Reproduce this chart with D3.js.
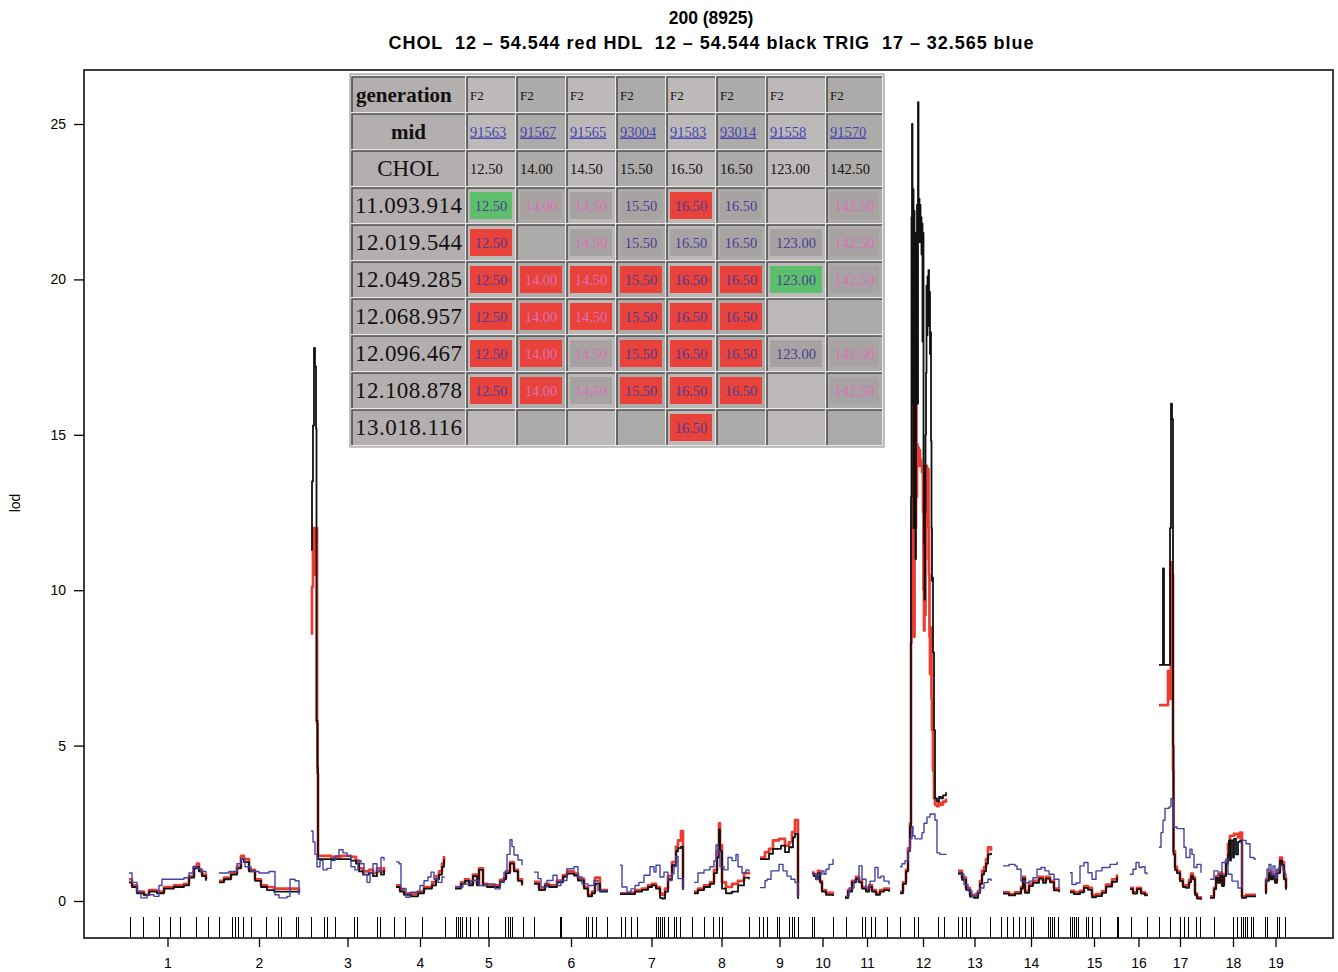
<!DOCTYPE html>
<html>
<head>
<meta charset="utf-8">
<script src="https://cdn.jsdelivr.net/npm/d3@7"></script>
<style>
body { margin: 0; background: #fff; }
svg { display: block; }
</style>
</head>
<body>
<svg id="chart"></svg>
<script>
// chromosome spans on the cumulative map (same units as markers)
var chromNames = ["1","2","3","4","5","6","7","8","9","10","11","12","13","14","15","16","17","18","19"];
var chromStart = [45,135,227,312,371,450,536,610,676,728,761,816,874,919,986,1046,1075,1126,1181];
var chromEnd   = [122,215,300,360,438,524,599,665,715,749,805,862,907,975,1034,1063,1117,1172,1202];

// marker positions (rug)
var markers = [46,59,75,86,96,112,124,135,148,151,154,159,167,182,194,197,212,214,227,240,243,251,270,273,293,296,310,321,338,361,
  372,374,376,378,382,386,394,404,421,424,426,428,439,450,476,477,502,504,508,512,523,537,541,547,553,572,574,576,578,580,584,590,592,596,
  608,620,629,635,638,665,675,679,683,693,695,705,708,710,714,728,730,749,762,778,781,787,791,803,816,830,834,854,860,874,878,882,886,
  906,917,923,929,935,941,947,949,964,966,968,970,974,986,988,990,992,994,1002,1004,1008,1016,1033,1034,1047,1063,1075,1086,1096,1100,
  1104,1112,1116,1130,1149,1153,1157,1159,1161,1163,1167,1169,1181,1183,1193,1195,1201];

// lod per chromosome: [position from chromosome start, lod]
var cholLod = [
  [[0,0.7],[3,0.5],[8,0.3],[15,0.2],[20,0.35],[28,0.3],[35,0.45],[45,0.5],[55,0.55],[60,0.8],[65,1.1],[68,1.2],[70,1.0],[73,0.85],[77,0.7]],
  [[0,0.65],[5,0.75],[12,0.9],[18,1.1],[22,1.45],[25,1.35],[30,1.0],[36,0.7],[42,0.5],[48,0.45],[55,0.4],[65,0.4],[75,0.4],[80,0.3]],
  [[0,8.6],[1,10.1],[2,12.0],[3,11.8],[4,10.5],[5,12.0],[6,5.7],[6.5,4.1],[7,1.45],[20,1.42],[30,1.45],[40,1.42],[45,1.3],[48,1.05],[52,0.95],[58,1.0],[62,0.9],[66,1.05],[70,0.95],[73,1.1]],
  [[0,0.5],[4,0.35],[8,0.25],[15,0.22],[22,0.3],[28,0.45],[36,0.6],[40,0.8],[43,0.95],[46,1.2],[48,1.45]],
  [[0,0.45],[6,0.6],[10,0.7],[14,0.55],[18,0.85],[22,0.55],[24,1.05],[28,0.55],[32,0.5],[40,0.5],[45,0.68],[49,0.75],[51,0.95],[55,1.25],[59,1.0],[63,0.7],[67,0.55]],
  [[0,0.62],[5,0.4],[11,0.55],[15,0.5],[23,0.66],[29,0.83],[33,0.95],[40,0.88],[44,0.72],[50,0.45],[54,0.2],[58,0.3],[61,0.75],[66,0.35],[74,0.35]],
  [[0,0.25],[8,0.26],[15,0.35],[22,0.4],[28,0.5],[32,0.55],[36,0.45],[40,0.25],[42,0.2],[45,0.4],[48,0.8],[52,1.25],[56,1.75],[58,1.95],[61,2.25],[63,0.4]],
  [[0,0.3],[4,0.4],[10,0.5],[16,0.6],[20,1.0],[23,1.6],[25,2.5],[26,1.8],[28,0.6],[32,0.45],[38,0.55],[44,0.65],[50,0.9],[55,0.85]],
  [[0,1.4],[5,1.57],[9,1.68],[13,1.95],[19,2.0],[25,1.78],[29,1.89],[32,2.22],[35,2.6],[38,0.15],[39,0.15]],
  [[0,0.91],[2,0.86],[4,0.75],[6,0.97],[8,0.64],[10,0.35],[14,0.26],[18,0.26],[21,0.21]],
  [[0,0.12],[3,0.35],[7,0.65],[11,0.78],[14,0.65],[17,0.45],[21,0.35],[24,0.5],[27,0.35],[31,0.25],[35,0.35],[39,0.4],[44,0.35]],
  [[0,0.3],[3,0.6],[6,1.0],[8,1.7],[10,2.5],[11,8.3],[11.5,12],[12,9.5],[12.5,14.5],[13,11],[13.5,16.5],[14,8.5],[14.5,15],[15,12],[16,16.7],[16.5,13],[17,14.7],[17.5,14.1],[18,14.6],[18.5,14.0],[19,14.5],[20,14.2],[21,14.0],[22,13.8],[23,12.5],[23.5,10],[24,8.7],[24.5,11.5],[25,9.2],[25.5,11],[26,13.0],[26.5,14.0],[27,13.6],[28,13.9],[28.5,12],[29,10.5],[29.5,8.5],[30,7.3],[31,8.8],[31.5,6.5],[32,5.5],[33,4.2],[34,3.3],[35,3.1],[37,3.05],[39,3.15],[41,3.1],[43,3.2],[46,3.3]],
  [[0,0.97],[4,0.75],[8,0.42],[12,0.2],[16,0.15],[20,0.32],[22,0.64],[24,0.97],[26,1.08],[28,1.35],[30,1.73],[33,1.62]],
  [[0,0.28],[6,0.22],[12,0.28],[18,0.45],[20,0.78],[22,0.32],[26,0.55],[30,0.65],[36,0.78],[40,0.65],[43,0.78],[47,0.65],[51,0.4],[56,0.33]],
  [[0,0.33],[4,0.28],[10,0.33],[14,0.48],[18,0.42],[22,0.18],[26,0.22],[32,0.32],[36,0.53],[42,0.7],[47,0.82],[48,0.82]],
  [[0,0.42],[3,0.28],[7,0.42],[11,0.28],[15,0.22],[17,0.2]],
  [[0,6.3],[9,7.4],[10,6.5],[12,10.9],[13,10.5],[14,4.2],[14.5,1.6],[16,1.1],[18,0.95],[21,0.7],[24,0.5],[27,0.5],[30,0.68],[32,0.88],[34,0.75],[36,0.25],[38,0.12],[42,0.08]],
  [[0,0.15],[4,0.42],[6,0.8],[8,0.64],[10,0.91],[12,0.53],[14,0.86],[16,1.3],[18,1.84],[20,2.1],[24,2.16],[28,2.05],[30,2.2],[32,0.15],[36,0.2],[46,0.2]],
  [[0,0.3],[1,0.7],[4,0.97],[6,0.75],[8,0.86],[10,0.64],[12,0.97],[15,1.4],[17,1.25],[19,0.75],[21,0.42]]
];

var hdlLod = [
  [[0,0.6],[3,0.45],[8,0.25],[15,0.2],[20,0.3],[28,0.25],[35,0.4],[45,0.45],[55,0.5],[60,0.75],[65,1.05],[68,1.1],[70,0.95],[73,0.8],[77,0.65]],
  [[0,0.6],[5,0.7],[12,0.85],[18,1.05],[22,1.35],[25,1.25],[30,0.95],[36,0.65],[42,0.45],[48,0.35],[55,0.3],[65,0.3],[75,0.3],[80,0.25]],
  [[0,11.3],[1,13.5],[2,15.3],[3,17.8],[4,17.2],[5,15.2],[5.5,5.8],[6.5,4.3],[7,1.35],[20,1.35],[30,1.35],[40,1.3],[45,1.2],[48,0.95],[52,0.85],[58,0.9],[62,0.8],[66,0.95],[70,0.85],[73,1.0]],
  [[0,0.45],[4,0.3],[8,0.2],[15,0.15],[22,0.25],[28,0.4],[36,0.5],[40,0.7],[43,0.85],[46,1.1],[48,1.35]],
  [[0,0.4],[6,0.55],[10,0.65],[14,0.5],[18,0.8],[22,0.5],[24,1.0],[28,0.5],[32,0.45],[40,0.45],[45,0.62],[49,0.7],[51,0.9],[55,1.2],[59,0.95],[63,0.65],[67,0.5]],
  [[0,0.55],[5,0.35],[11,0.5],[15,0.45],[23,0.6],[29,0.78],[33,0.88],[40,0.82],[44,0.66],[50,0.4],[54,0.15],[58,0.25],[61,0.55],[66,0.3],[74,0.3]],
  [[0,0.22],[8,0.22],[15,0.3],[22,0.36],[28,0.45],[32,0.5],[36,0.4],[40,0.1],[42,0.08],[45,0.3],[48,0.7],[52,1.15],[56,1.6],[58,1.7],[61,1.75],[63,0.35]],
  [[0,0.25],[4,0.35],[10,0.45],[16,0.55],[20,0.9],[23,1.4],[25,2.3],[26,1.6],[28,0.4],[32,0.25],[38,0.3],[44,0.5],[50,0.75],[55,0.7]],
  [[0,1.35],[5,1.35],[9,1.52],[13,1.68],[21,1.78],[25,1.57],[29,1.73],[33,2.05],[35,2.16],[38,0.1],[39,0.1]],
  [[0,0.86],[2,0.8],[4,0.7],[6,0.9],[8,0.6],[10,0.3],[14,0.2],[18,0.2],[21,0.16]],
  [[0,0.1],[3,0.3],[7,0.6],[11,0.72],[14,0.6],[17,0.4],[21,0.3],[24,0.45],[27,0.3],[31,0.2],[35,0.3],[39,0.35],[44,0.3]],
  [[0,0.25],[3,0.55],[6,0.95],[8,1.6],[10,2.4],[11,13.0],[11.5,22.0],[12,25.0],[12.5,16],[13,22.9],[13.5,12],[14,22.2],[14.5,15],[15,21.5],[15.5,11],[16,20.8],[16.5,17],[17,22.4],[17.5,16],[18,25.7],[18.5,22.0],[19,22.6],[19.5,21.2],[20,22.4],[20.5,21.4],[21,22.0],[21.5,20.8],[22,21.8],[22.5,18],[23,21.5],[23.5,14],[24,11.5],[24.5,9.7],[25,12.5],[25.5,15],[26,17],[26.5,19.8],[27,18.2],[27.5,20.1],[28,18.8],[28.5,20.3],[29,18.5],[29.5,19.6],[30,17.6],[30.5,18.3],[31,14.8],[31.5,12],[32,10.3],[32.5,10.4],[33,8],[34,5.5],[35,3.3],[37,3.2],[39,3.35],[41,3.3],[43,3.4],[46,3.5]],
  [[0,0.9],[4,0.68],[8,0.36],[12,0.14],[16,0.1],[20,0.26],[22,0.55],[24,0.85],[26,0.95],[28,1.2],[30,1.5],[33,1.55]],
  [[0,0.24],[6,0.18],[12,0.24],[18,0.4],[20,0.72],[22,0.26],[26,0.48],[30,0.58],[36,0.72],[40,0.58],[43,0.72],[47,0.6],[51,0.34],[56,0.28]],
  [[0,0.28],[4,0.22],[10,0.28],[14,0.42],[18,0.36],[22,0.12],[26,0.16],[32,0.26],[36,0.46],[42,0.62],[47,0.75],[48,0.75]],
  [[0,0.38],[3,0.24],[7,0.38],[11,0.24],[15,0.18],[17,0.16]],
  [[0,7.6],[3,7.6],[4,10.7],[5,7.6],[9,7.6],[11,12],[12,16.0],[13,15.5],[14,5],[14.5,1.5],[16,1.0],[18,0.9],[21,0.64],[24,0.45],[27,0.42],[30,0.6],[32,0.8],[34,0.7],[36,0.2],[38,0.08],[42,0.04]],
  [[0,0.1],[4,0.38],[6,0.74],[8,0.58],[10,0.85],[12,0.48],[14,0.8],[16,1.2],[18,1.5],[19,1.95],[20,1.3],[21,1.95],[23,1.4],[24,2.0],[26,1.5],[28,1.9],[30,1.95],[32,0.1],[36,0.15],[46,0.15]],
  [[0,0.25],[1,0.65],[4,0.9],[6,0.7],[8,0.8],[10,0.58],[12,0.9],[15,1.3],[17,1.15],[19,0.7],[21,0.36]]
];

var trigLod = [
  [[0,0.9],[3,0.6],[8,0.3],[12,0.1],[18,0.2],[25,0.15],[30,0.5],[33,0.7],[45,0.7],[55,0.75],[60,0.9],[64,1.1],[68,1.05],[72,0.95],[77,0.9]],
  [[0,0.9],[10,0.95],[18,1.2],[22,1.35],[26,1.1],[32,0.95],[40,0.9],[50,0.95],[56,0.2],[60,0.1],[68,0.15],[71,0.7],[76,0.65],[80,0.2]],
  [[0,2.25],[2,1.9],[4,1.5],[6,1.1],[9,1.3],[12,1.0],[16,1.05],[20,1.3],[24,1.45],[28,1.65],[32,1.55],[36,1.45],[40,1.1],[44,1.0],[47,1.3],[50,1.2],[53,0.85],[56,0.6],[59,0.9],[62,1.2],[66,0.95],[70,1.4],[73,1.3]],
  [[0,1.26],[3,1.2],[5,0.4],[10,0.12],[14,0.28],[20,0.3],[24,0.5],[28,0.65],[32,0.77],[35,0.93],[38,0.7],[42,0.6],[46,0.77],[48,0.75]],
  [[0,0.45],[8,0.55],[16,0.66],[24,0.5],[32,0.55],[40,0.39],[45,0.6],[49,0.93],[52,1.5],[55,1.97],[57,1.75],[59,1.48],[63,1.32],[67,1.15]],
  [[0,0.93],[4,0.72],[7,0.45],[13,0.66],[19,0.83],[23,0.5],[27,0.66],[33,1.04],[40,1.1],[44,0.77],[48,0.55],[54,0.5],[60,0.66],[64,0.34],[74,0.34]],
  [[0,1.15],[2,0.45],[7,0.28],[11,0.39],[15,0.5],[19,0.6],[24,0.83],[30,1.1],[34,0.93],[36,1.15],[40,0.77],[44,0.93],[48,0.66],[52,0.88],[54,1.1],[56,1.43],[58,0.72],[63,0.35]],
  [[0,0.6],[4,0.9],[10,1.0],[16,1.1],[20,1.3],[22,1.8],[24,1.6],[26,1.1],[30,1.0],[34,1.4],[38,1.3],[42,1.5],[44,1.1],[48,0.9],[52,1.0],[55,0.95]],
  [[0,0.43],[5,0.65],[7,0.7],[11,0.97],[19,1.18],[23,0.97],[27,0.8],[31,0.7],[35,0.59],[38,0.15],[39,0.15]],
  [[0,0.86],[4,0.7],[6,0.86],[10,0.97],[12,0.86],[14,1.02],[17,1.18],[21,1.35]],
  [[0,0.15],[4,0.42],[9,0.64],[14,1.13],[17,0.7],[21,0.42],[25,0.64],[30,1.08],[33,0.75],[36,0.8],[39,0.64],[44,0.53]],
  [[0,1.1],[2,1.2],[5,1.3],[8,1.6],[10,2.0],[12,2.4],[13,2.1],[15,2.0],[18,2.0],[20,2.0],[22,2.2],[24,2.5],[27,2.7],[30,2.8],[33,2.8],[35,2.6],[37,1.55],[40,1.5],[43,1.5],[46,1.48]],
  [[0,0.86],[6,0.53],[10,0.32],[14,0.15],[18,0.26],[22,0.42],[26,0.59],[30,0.7],[33,0.64]],
  [[0,1.13],[6,1.18],[12,1.13],[14,1.02],[18,0.64],[22,0.59],[26,0.64],[30,0.75],[34,1.02],[38,1.08],[42,0.97],[46,0.86],[51,0.7],[56,0.42]],
  [[0,0.91],[2,0.53],[6,0.58],[10,1.13],[14,1.24],[18,0.91],[22,0.7],[26,0.97],[32,1.08],[40,1.18],[47,1.24],[48,1.24]],
  [[0,0.86],[3,1.02],[6,1.24],[9,1.08],[12,1.1],[15,0.9],[17,0.85]],
  [[0,1.73],[2,2.2],[4,2.6],[6,2.98],[10,3.03],[12,3.3],[14,2.38],[18,2.33],[23,2.33],[25,1.73],[27,1.4],[31,1.67],[33,1.5],[35,1.08],[38,1.18],[42,0.91]],
  [[0,0.7],[4,0.97],[8,0.86],[12,1.24],[16,1.35],[18,0.86],[22,0.64],[28,0.42],[32,1.95],[36,1.84],[40,1.4],[44,1.35],[46,1.35]],
  [[0,0.59],[2,1.02],[4,1.18],[6,0.86],[8,1.13],[10,0.75],[12,1.02],[14,1.13],[18,0.97],[20,0.86],[21,0.8]]
];

var yTicks = [0, 5, 10, 15, 20, 25];

// inset table
var tableMid = ["91563","91567","91565","93004","91583","93014","91558","91570"];
var tableGen = ["F2","F2","F2","F2","F2","F2","F2","F2"];
var tableChol = ["12.50","14.00","14.50","15.50","16.50","16.50","123.00","142.50"];
var tableMarkers = ["11.093.914","12.019.544","12.049.285","12.068.957","12.096.467","12.108.878","13.018.116"];
// G = green, R = red, g = grey, - = empty
var tableCells = ["GgggRg-g","R-gggggg","RRRRRRGg","RRRRRR--","RRgRRRgg","RRgRRR-g","----R---"];

var W = 1338, H = 972;
var svg = d3.select("#chart").attr("width", W).attr("height", H)
  .style("font-family", "'Liberation Sans', Arial, sans-serif");

var x = d3.scaleLinear().domain([0, 1249]).range([84, 1333]);
var y = d3.scaleLinear().domain([0, 25]).range([901, 124]);
var plotTop = 70, plotBottom = 938;

// title
svg.append("text").attr("x", 711).attr("y", 24).attr("text-anchor", "middle")
  .attr("font-size", 17.5).attr("font-weight", "bold").text("200 (8925)");
svg.append("text").attr("x", 711).attr("y", 49).attr("text-anchor", "middle")
  .attr("font-size", 18).attr("font-weight", "bold")
  .attr("textLength", 645).attr("lengthAdjust", "spacing")
  .attr("xml:space", "preserve")
  .text("CHOL  12 \u2013 54.544 red HDL  12 \u2013 54.544 black TRIG  17 \u2013 32.565 blue");

// box
svg.append("rect").attr("x", 84).attr("y", plotTop).attr("width", 1333 - 84).attr("height", plotBottom - plotTop)
  .attr("fill", "none").attr("stroke", "#000").attr("stroke-width", 1.5);

// y axis
var yAxis = svg.append("g").attr("transform", "translate(84,0)")
  .call(d3.axisLeft(y).tickValues(yTicks).tickSize(10).tickPadding(8));
yAxis.select(".domain").remove();
yAxis.selectAll("line").attr("stroke-width", 1.3);
yAxis.selectAll("text").attr("font-size", 14).attr("font-family", "'Liberation Sans', Arial, sans-serif");

svg.append("text").attr("transform", "translate(20,503) rotate(-90)")
  .attr("text-anchor", "middle").attr("font-size", 14).text("lod");

// x axis at chromosome midpoints
var mids = chromNames.map(function(d, i) { return (chromStart[i] + chromEnd[i]) / 2; });
var xAxis = svg.append("g").attr("transform", "translate(0," + plotBottom + ")")
  .call(d3.axisBottom(x).tickValues(mids).tickSize(9).tickPadding(11)
    .tickFormat(function(d, i) { return chromNames[i]; }));
xAxis.select(".domain").remove();
xAxis.selectAll("line").attr("stroke-width", 1.3);
xAxis.selectAll("text").attr("font-size", 14).attr("font-family", "'Liberation Sans', Arial, sans-serif");

// rug of markers
svg.append("g").selectAll("line").data(markers).enter().append("line")
  .attr("x1", function(d) { return Math.round(x(d)) + 0.5; }).attr("x2", function(d) { return Math.round(x(d)) + 0.5; })
  .attr("y1", 917).attr("y2", plotBottom)
  .attr("stroke", "#000").attr("stroke-width", 1);

// lod curves
var line = d3.line()
  .x(function(d) { return x(d[0]); })
  .y(function(d) { return y(d[1]); })
  .curve(d3.curveStepAfter);

function drawSeries(series, color, width) {
  var g = svg.append("g");
  series.forEach(function(pts, i) {
    var abs = pts.map(function(p) { return [chromStart[i] + p[0], p[1]]; });
    g.append("path").datum(abs).attr("d", line)
      .attr("fill", "none").attr("stroke", color).attr("stroke-width", width)
      .attr("stroke-linejoin", "round");
  });
}
drawSeries(cholLod, "#ec3b2f", 2.7);
drawSeries(hdlLod, "#111111", 1.8);
drawSeries(trigLod, "#4343a3", 1.4);

// inset table
var tx0 = 352, labelW = 113, gap = 2;
var colW = [48, 48, 48, 48, 48, 48, 58, 55];
var ty0 = 77, rowH = 35;
var colX = [];
var cx = tx0 + labelW + gap;
colW.forEach(function(w) { colX.push(cx); cx += w + gap; });
var tableRight = cx - gap;

var tbl = svg.append("g").attr("font-family", "'Liberation Serif', 'Times New Roman', serif");
var nRows = 3 + tableMarkers.length;
tbl.append("rect").attr("x", tx0 - 2).attr("y", ty0 - 3)
  .attr("width", tableRight - tx0 + 4).attr("height", nRows * (rowH + gap) + 3)
  .attr("fill", "#e9e9e9").attr("stroke", "#8a8a8a").attr("stroke-width", 1);

function cell(xp, yp, w, fill) {
  tbl.append("rect").attr("x", xp).attr("y", yp).attr("width", w).attr("height", rowH).attr("fill", fill);
  tbl.append("path").attr("d", "M" + xp + "," + (yp + rowH) + "V" + yp + "H" + (xp + w))
    .attr("fill", "none").attr("stroke", "#4e4e4e").attr("stroke-width", 1.6);
}

var pink = "#dc6fb8", navy = "#4a3d96";
var colText = [navy, pink, pink, navy, navy, navy, navy, pink];
var labelRows = ["generation", "mid", "CHOL"].concat(tableMarkers);

labelRows.forEach(function(lab, r) {
  var yp = ty0 + r * (rowH + gap);
  cell(tx0, yp, labelW, "#b3afaf");
  var t = tbl.append("text").attr("y", yp + rowH / 2 + 7).attr("fill", "#111");
  if (r === 0) t.attr("x", tx0 + 4).attr("font-size", 21).attr("font-weight", "bold").text(lab);
  else if (r === 1) t.attr("x", tx0 + labelW / 2).attr("text-anchor", "middle").attr("font-size", 21).attr("font-weight", "bold").text(lab);
  else if (r === 2) t.attr("x", tx0 + labelW / 2).attr("text-anchor", "middle").attr("font-size", 23).text(lab);
  else t.attr("x", tx0 + 3).attr("font-size", 23).attr("textLength", labelW - 6).text(lab);

  colW.forEach(function(w, c) {
    var xp = colX[c];
    cell(xp, yp, w, c % 2 === 0 ? "#bdb9b9" : "#adaaaa");
    if (r < 3) {
      var v = r === 0 ? tableGen[c] : (r === 1 ? tableMid[c] : tableChol[c]);
      var tt = tbl.append("text").attr("x", xp + 3).attr("y", yp + rowH / 2 + 5)
        .attr("font-size", r === 0 ? 13 : 14.5).text(v);
      if (r === 1) tt.attr("fill", "#4646b0").attr("text-decoration", "underline");
      else tt.attr("fill", "#111");
    } else {
      var st = tableCells[r - 3].charAt(c);
      if (st === "-") return;
      var fill = st === "R" ? "#e8423a" : (st === "G" ? "#5dbf6c" : "#a7a3a3");
      tbl.append("rect").attr("x", xp + 3).attr("y", yp + 4).attr("width", w - 6).attr("height", rowH - 8)
        .attr("fill", fill);
      tbl.append("text").attr("x", xp + w / 2).attr("y", yp + rowH / 2 + 5).attr("text-anchor", "middle")
        .attr("font-size", 14.5).attr("fill", colText[c]).text(tableChol[c]);
    }
  });
});
</script>
</body>
</html>
